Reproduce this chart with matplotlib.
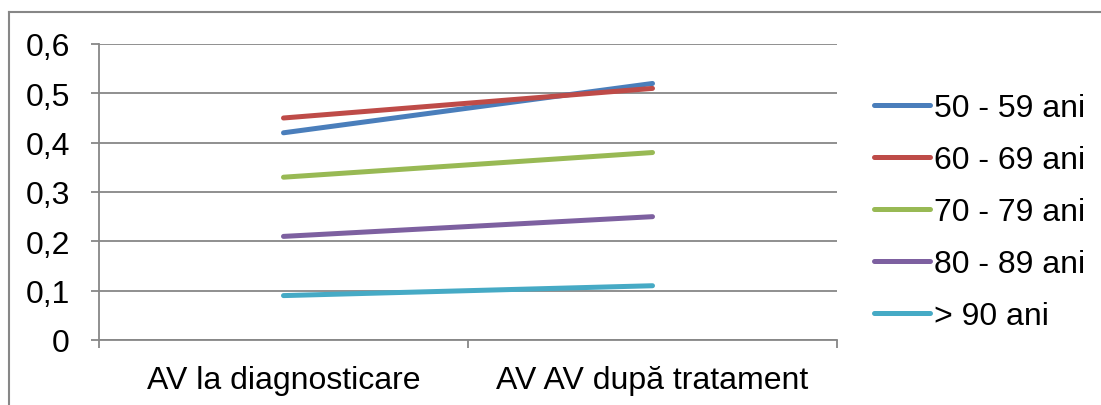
import matplotlib.pyplot as plt
from matplotlib.lines import Line2D
import matplotlib.ticker as ticker

plt.rcParams['font.family'] = ['Liberation Sans', 'DejaVu Sans']

# date
categorii = ["AV la diagnosticare", "AV AV după tratament"]
grupe = ["50 - 59 ani", "60 - 69 ani", "70 - 79 ani", "80 - 89 ani", "> 90 ani"]
v_50 = [0.42, 0.52]
v_60 = [0.45, 0.51]
v_70 = [0.33, 0.38]
v_80 = [0.21, 0.25]
v_90 = [0.09, 0.11]
valori = [v_50, v_60, v_70, v_80, v_90]
culori = ["#4A7EBB", "#BE4B48", "#98B954", "#7D60A0", "#46AAC5"]

gri = "#878787"

fig = plt.figure(figsize=(11.01, 4.06), dpi=100)
ax = fig.add_axes([99 / 1101, 1 - 341 / 406, (837 - 99) / 1101, (341 - 45) / 406])

x = list(range(len(categorii)))
for nume, val, c in zip(grupe, valori, culori):
    ax.plot(x, val, color=c, lw=3.6, solid_capstyle='round', label=nume, zorder=3)

ax.set_xlim(-0.5, len(categorii) - 0.5)
ax.set_ylim(0, 0.6)
ax.set_yticks([0, 0.1, 0.2, 0.3, 0.4, 0.5, 0.6])
ax.yaxis.set_major_formatter(ticker.FuncFormatter(
    lambda v, p: "0" if v == 0 else ("%.1f" % v).replace(".", ",")))
ax.set_xticks(x)
ax.set_xticklabels(categorii)
ax.set_xticks([-0.5, 0.5, 1.5], minor=True)

ax.grid(axis='y', color=gri, lw=1.3)
ax.set_axisbelow(True)
for s in ['top', 'right']:
    ax.spines[s].set_visible(False)
for s in ['left', 'bottom']:
    ax.spines[s].set_color(gri)
    ax.spines[s].set_linewidth(1.3)

ax.tick_params(axis='y', labelsize=23, length=6, width=1.3, color=gri, pad=15)
ax.tick_params(axis='x', which='major', labelsize=23, length=0, pad=18)
ax.tick_params(axis='x', which='minor', length=6, width=1.3, color=gri)

leg = ax.legend(loc='center left', bbox_to_anchor=(874 / 1101, 1 - 213 / 406),
                bbox_transform=fig.transFigure, frameon=False, fontsize=23,
                handlelength=1.75, handletextpad=0.12, labelspacing=0.69,
                borderpad=0, borderaxespad=0)
for h in leg.get_lines():
    h.set_solid_capstyle('round')

# chenarul graficului
fig.add_artist(Line2D([9 / 1101, 1], [1 - 13 / 406, 1 - 13 / 406], color=gri, lw=1.5,
                      transform=fig.transFigure))
fig.add_artist(Line2D([9 / 1101, 9 / 1101], [0, 1 - 13 / 406], color=gri, lw=1.5,
                      transform=fig.transFigure))

fig.savefig("out.png", dpi=100)
